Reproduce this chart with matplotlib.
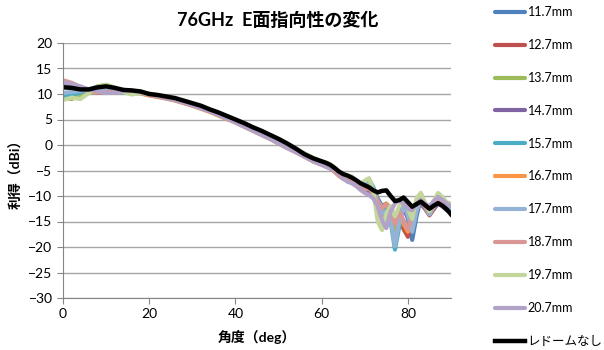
import numpy as np
import matplotlib
matplotlib.use('Agg')
import matplotlib.pyplot as plt

plt.rcParams['font.family'] = ['Lato', 'Noto Sans CJK JP', 'DejaVu Sans']

# angle grid (deg)
angle = list(range(0, 61, 2)) + list(range(61, 91))

labels = ['11.7mm', '12.7mm', '13.7mm', '14.7mm', '15.7mm', '16.7mm',
          '17.7mm', '18.7mm', '19.7mm', '20.7mm']
colors = ['#4F81BD', '#C0504D', '#9BBB59', '#8064A2', '#4BACC6', '#F79646',
          '#95B3D7', '#D99694', '#C3D69B', '#B3A2C7']

g117 = [9.0, 9.4, 9.6, 10.4, 11.3, 11.6, 11.0, 10.4, 10.2, 10.3, 9.9, 9.6, 9.3, 9.0, 8.5, 8.0,
        7.4, 6.8, 6.1, 5.4, 4.7, 4.0, 3.2, 2.4, 1.6, 0.8, -0.1, -1.0, -1.9, -2.8, -3.5,
        -3.9, -4.4, -5.0, -5.6, -6.0, -6.3, -6.9, -7.6, -8.2, -8.4, -8.0, -8.9, -10.5, -12.0, -11.5,
        -12.5, -15.5, -13.0, -11.8, -14.5, -18.6, -14.0, -10.5, -11.8, -13.2, -12.0, -10.8, -11.5, -12.3, -12.8]
g127 = [12.4, 11.8, 11.0, 10.5, 10.4, 10.6, 10.7, 10.6, 10.5, 10.2, 9.9, 9.5, 9.2, 8.9, 8.4, 7.9,
        7.3, 6.6, 6.0, 5.3, 4.6, 3.8, 3.0, 2.3, 1.4, 0.5, -0.4, -1.2, -2.1, -3.0, -3.7,
        -4.1, -4.5, -5.2, -6.0, -6.6, -6.8, -7.2, -7.8, -8.5, -8.8, -8.6, -9.6, -11.5, -13.0, -12.0,
        -13.5, -16.0, -14.0, -16.5, -18.0, -15.0, -12.0, -11.0, -12.5, -13.8, -12.6, -11.2, -11.8, -12.0, -12.4]
g137 = [9.3, 9.0, 9.8, 10.6, 11.5, 11.8, 11.2, 10.5, 10.1, 10.3, 10.0, 9.7, 9.3, 9.0, 8.6, 8.1,
        7.5, 6.9, 6.2, 5.5, 4.8, 4.1, 3.3, 2.5, 1.7, 0.8, 0.0, -0.9, -1.8, -2.6, -3.3,
        -3.6, -4.0, -4.6, -5.4, -6.2, -6.2, -6.6, -7.4, -8.0, -7.4, -6.8, -8.5, -12.5, -14.0, -12.0,
        -13.0, -17.0, -13.0, -11.2, -13.0, -15.5, -11.0, -9.5, -11.5, -13.5, -11.5, -10.0, -11.0, -12.0, -12.0]
g147 = [12.0, 11.6, 11.0, 10.6, 10.3, 10.4, 10.8, 10.8, 10.4, 10.2, 9.8, 9.5, 9.2, 8.8, 8.3, 7.8,
        7.2, 6.6, 5.9, 5.2, 4.5, 3.7, 2.9, 2.1, 1.3, 0.4, -0.5, -1.3, -2.2, -3.1, -3.8,
        -4.2, -4.6, -5.1, -5.8, -6.4, -7.0, -7.4, -8.0, -8.6, -9.0, -9.2, -10.0, -11.8, -13.5, -12.8,
        -12.5, -14.5, -12.5, -12.8, -14.0, -14.5, -12.5, -11.5, -12.5, -13.2, -12.5, -11.5, -12.0, -12.8, -13.0]
g157 = [9.6, 9.8, 10.3, 10.9, 11.4, 11.4, 10.9, 10.3, 10.1, 10.2, 9.9, 9.6, 9.3, 8.9, 8.4, 7.9,
        7.4, 6.8, 6.1, 5.4, 4.6, 3.9, 3.1, 2.3, 1.5, 0.6, -0.3, -1.1, -2.0, -2.8, -3.4,
        -3.7, -4.1, -4.8, -5.6, -6.0, -6.1, -6.8, -7.5, -7.8, -7.2, -6.9, -8.3, -11.0, -13.0, -12.5,
        -15.0, -20.5, -16.0, -11.5, -13.5, -16.5, -12.5, -10.2, -11.8, -13.5, -12.0, -10.5, -11.2, -12.2, -12.6]
g167 = [12.6, 12.0, 11.2, 10.5, 10.3, 10.5, 10.7, 10.7, 10.5, 10.1, 9.7, 9.4, 9.1, 8.7, 8.2, 7.7,
        7.1, 6.5, 5.8, 5.1, 4.4, 3.6, 2.8, 2.0, 1.2, 0.3, -0.6, -1.4, -2.3, -3.2, -3.9,
        -4.0, -4.4, -5.0, -5.9, -6.5, -6.7, -7.0, -7.6, -8.3, -8.6, -8.4, -9.3, -11.2, -12.5, -11.5,
        -12.8, -15.0, -13.5, -15.5, -17.0, -14.0, -11.5, -10.8, -12.2, -13.5, -12.2, -10.8, -11.2, -11.6, -11.8]
g177 = [10.2, 10.4, 10.6, 10.8, 11.0, 11.1, 10.8, 10.4, 10.3, 10.2, 9.9, 9.6, 9.2, 8.9, 8.4, 7.9,
        7.3, 6.7, 6.0, 5.3, 4.6, 3.8, 3.0, 2.2, 1.4, 0.5, -0.4, -1.2, -2.1, -2.9, -3.6,
        -3.8, -4.2, -4.7, -5.5, -6.2, -6.4, -6.7, -7.3, -7.9, -7.6, -7.2, -8.6, -11.2, -13.5, -13.0,
        -14.5, -19.8, -15.0, -11.8, -13.8, -17.0, -13.0, -10.5, -12.0, -13.6, -12.0, -10.6, -11.0, -11.8, -12.2]
g187 = [12.7, 12.2, 11.4, 10.7, 10.4, 10.3, 10.6, 10.8, 10.6, 10.2, 9.8, 9.5, 9.1, 8.8, 8.3, 7.8,
        7.2, 6.6, 5.9, 5.2, 4.5, 3.7, 2.9, 2.1, 1.3, 0.4, -0.5, -1.3, -2.2, -3.1, -3.7,
        -4.0, -4.5, -5.2, -6.0, -6.5, -6.6, -7.1, -7.8, -8.4, -8.7, -8.5, -9.5, -11.0, -12.2, -11.8,
        -13.0, -15.5, -13.0, -14.8, -16.5, -13.8, -11.2, -10.6, -12.0, -13.0, -11.8, -10.5, -11.0, -11.4, -11.6]
g197 = [8.8, 9.3, 9.0, 10.2, 11.4, 11.8, 11.3, 10.4, 9.9, 10.2, 10.1, 9.8, 9.4, 9.0, 8.6, 8.1,
        7.6, 7.0, 6.3, 5.6, 4.9, 4.2, 3.4, 2.6, 1.8, 0.9, 0.1, -0.8, -1.6, -2.5, -3.2,
        -3.4, -3.8, -4.4, -5.3, -6.3, -6.0, -6.2, -7.0, -7.6, -7.0, -6.5, -9.0, -15.0, -16.7, -13.5,
        -12.0, -14.0, -12.0, -10.8, -12.5, -14.5, -10.5, -9.4, -11.5, -13.0, -11.0, -9.4, -10.2, -11.2, -11.5]
g207 = [12.3, 12.0, 11.5, 10.9, 10.5, 10.2, 10.3, 10.6, 10.6, 10.4, 10.0, 9.6, 9.2, 8.8, 8.3, 7.8,
        7.2, 6.6, 5.9, 5.2, 4.4, 3.6, 2.8, 2.0, 1.2, 0.3, -0.6, -1.4, -2.3, -3.2, -3.9,
        -4.3, -4.6, -4.8, -5.5, -6.6, -7.2, -7.5, -8.0, -8.8, -9.4, -9.8, -10.5, -12.0, -14.8, -16.3,
        -13.0, -11.5, -10.8, -11.5, -12.5, -12.8, -11.5, -10.8, -11.5, -12.0, -11.0, -10.2, -10.8, -11.5, -12.0]
no_radome = [11.3, 11.2, 10.9, 10.9, 11.3, 11.5, 11.2, 10.8, 10.7, 10.5, 10.0, 9.8, 9.5, 9.2, 8.7, 8.2,
             7.7, 7.0, 6.4, 5.7, 5.0, 4.3, 3.5, 2.8, 2.0, 1.2, 0.3, -0.7, -1.8, -2.6, -3.2,
             -3.5, -3.9, -4.5, -5.2, -5.7, -6.0, -6.4, -6.9, -7.5, -7.9, -8.3, -8.9, -9.3, -9.0, -8.9,
             -10.0, -11.0, -10.8, -10.3, -11.2, -12.1, -11.6, -11.1, -11.8, -12.5, -11.9, -11.4, -11.9, -12.6, -13.6]

series = [g117, g127, g137, g147, g157, g167, g177, g187, g197, g207]

fig = plt.figure(figsize=(6.04, 3.5), dpi=100)
ax = fig.add_axes([63/604, 1 - 298/350, 388/604, 255/350])

for vals, lab, col in zip(series, labels, colors):
  ax.plot(angle, vals, color=col, lw=3.0, label=lab, solid_capstyle='round')
ax.plot(angle, no_radome, color='black', lw=3.2, label='レドームなし')

ax.set_xlim(0, 90)
ax.set_ylim(-30, 20)
ax.set_xticks([0, 20, 40, 60, 80])
ax.set_yticks(np.arange(-30, 21, 5))
ax.yaxis.grid(True, color='#A6A6A6', lw=1)
ax.set_axisbelow(True)
for s in ['top', 'right']:
  ax.spines[s].set_visible(False)
for s in ['left', 'bottom']:
  ax.spines[s].set_color('#868686')
ax.tick_params(axis='both', colors='#868686', labelcolor='black', labelsize=10,
               length=4, direction='out')

ax.set_xlabel('角度（deg）', fontsize=10, fontweight='bold', labelpad=7)
ax.set_ylabel('利得（dBi）', fontsize=10, fontweight='bold', labelpad=4)
fig.text(278/604, 1 - 20/350, '76GHz  E面指向性の変化', fontsize=13, fontweight='bold',
         ha='center', va='center')

fig.legend(loc='center left', bbox_to_anchor=(495/604, 1 - 176.5/350), frameon=False,
           fontsize=9, labelspacing=1.67, handlelength=2.4, handletextpad=0.2,
           borderpad=0, borderaxespad=0)

fig.savefig('out.png', dpi=100)
